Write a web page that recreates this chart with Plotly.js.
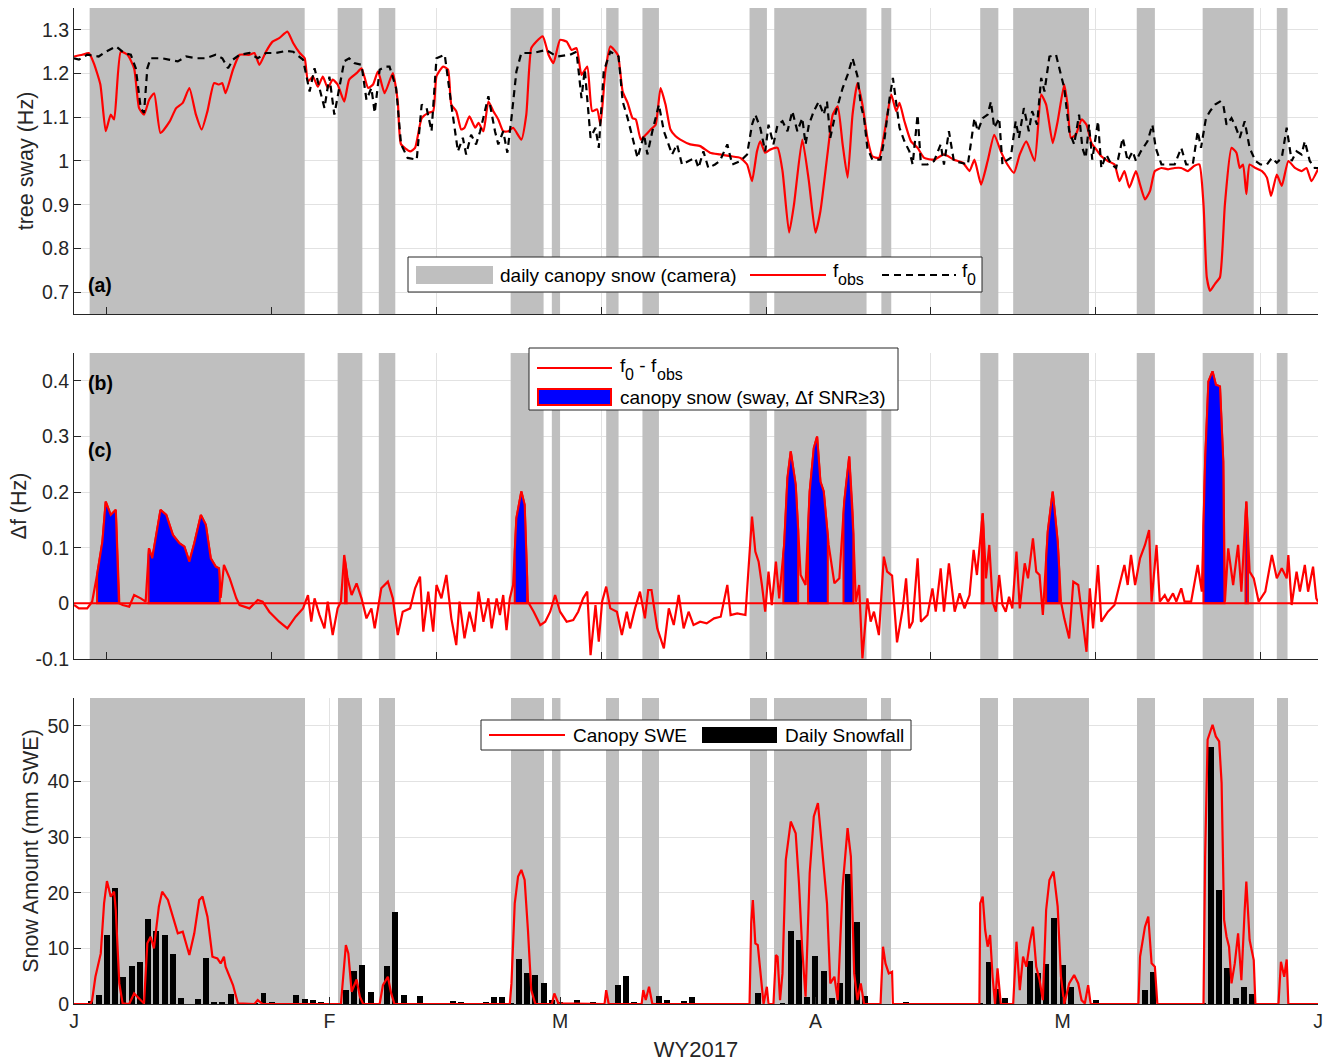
<!DOCTYPE html>
<html>
<head>
<meta charset="utf-8">
<script src="https://cdn.plot.ly/plotly-3.0.1.min.js"></script>
<style>html,body{margin:0;padding:0;background:#fff;}#chart{width:1327px;height:1062px;}</style>
</head>
<body>
<div id="chart"></div>
<script>
// ---- x is days since 1 Jan 2017 (WY2017) ----
const monthDays = [0, 31, 59, 90, 120, 151];
const monthLabels = ['J', 'F', 'M', 'A', 'M', 'J'];
const gridDays = [4, 24, 44, 64, 84, 104, 124, 144];

// camera: days with snow in canopy
const camStart = [1.9, 32, 37, 53, 58, 64.6, 69, 82, 85, 98, 110, 114, 129, 137, 146];
const camEnd   = [28, 35, 39, 57, 59, 66.1, 71, 84.1, 96.2, 99.2, 112.2, 123.2, 131.2, 143.2, 147.3];

// (a) observed sway frequency
const fobsDay = [0,1.0,1.8,2.4,3.2,3.85,4.46,4.87,5.68,6.5,7.3,7.9,8.5,9.12,9.73,10.5,11.6,12.4,13.2,14.0,14.8,15.5,16.2,17.0,17.6,18.0,18.4,19.3,20.1,21.3,21.9,22.5,23.3,24.1,24.9,25.9,26.6,27.4,28.0,28.4,29.0,29.6,30.2,30.8,31.4,32.0,32.8,33.4,34.3,34.9,35.7,36.3,36.9,37.7,
 38.7,39.3,39.7,40.8,41.4,42.2,43.0,43.6,44.0,44.8,45.4,45.8,46.4,47.0,47.4,48.0,48.7,49.1,49.7,50.3,50.9,51.5,52.1,52.7,53.3,54.3,54.9,55.5,56.1,56.9,57.6,58.2,59.0,59.8,60.4,61.0,61.6,62.3,62.9,63.5,63.9,64.5,65.1,66.0,66.6,67.2,67.8,68.2,68.8,69.4,70.0,70.6,71.2,71.8,72.4,73.0,73.6,74.8,76.0,
 77.2,78.4,79.7,80.9,81.7,82.3,82.9,83.3,83.9,84.5,85.4,86.0,86.8,87.4,88.4,89.2,90.0,90.6,91.5,92.1,92.7,93.3,93.9,94.5,95.1,95.7,96.3,96.9,97.7,98.4,99.2,99.8,100.2,100.8,101.6,102.4,103.2,104.4,105.6,106.8,107.9,108.7,109.3,110.1,110.9,111.7,112.5,113.3,
 114.1,114.8,115.6,116.6,117.4,118.0,118.8,119.4,120.2,120.6,121.0,121.6,122.3,122.9,123.5,124.1,124.7,125.5,126.3,126.9,127.5,128.1,128.9,129.4,130.0,130.6,131.2,132.0,132.8,133.6,134.4,135.2,136.0,136.6,137.1,137.5,137.9,138.5,139.1,139.7,140.5,141.1,141.5,141.9,142.3,142.7,143.4,144.2,144.8,145.3,146.0,146.6,147.4,148.2,149.0,149.6,150.2,151.0];
const fobsVal = [1.239,1.243,1.247,1.224,1.175,1.068,1.106,1.095,1.25,1.243,1.212,1.121,1.106,1.14,1.155,1.064,1.09,1.121,1.133,1.167,1.106,1.072,1.114,1.178,1.175,1.178,1.155,1.209,1.243,1.243,1.247,1.22,1.25,1.273,1.281,1.296,1.27,1.247,1.235,1.182,1.193,1.17,1.193,1.167,1.186,1.175,1.136,1.186,1.201,1.212,1.167,1.175,1.205,1.155,
 1.201,1.136,1.038,1.022,1.03,1.098,1.11,1.114,1.194,1.216,1.209,1.129,1.114,1.072,1.076,1.102,1.076,1.087,1.068,1.136,1.114,1.095,1.068,1.068,1.076,1.049,1.106,1.258,1.273,1.285,1.243,1.224,1.277,1.273,1.254,1.258,1.197,1.216,1.114,1.118,1.083,1.205,1.262,1.243,1.159,1.133,1.098,1.095,1.049,1.06,1.072,1.083,1.167,1.129,1.072,1.057,1.049,1.038,1.034,
 1.019,1.015,1.011,1.007,0.992,0.954,1.022,1.045,1.019,1.026,1.03,0.977,0.836,0.901,1.049,0.954,0.836,0.885,1.022,1.106,1.125,1.038,0.962,1.106,1.178,1.129,1.053,1.011,1.007,1.068,1.152,1.114,1.133,1.091,1.045,1.03,1.007,1.003,1.015,1.003,0.996,0.977,1.003,0.946,1.0,1.06,1.022,0.992,
 0.973,1.015,1.045,1.0,1.152,1.129,1.041,1.091,1.175,1.129,1.053,1.06,1.095,1.083,1.041,1.026,1.011,1.0,0.992,0.954,0.977,0.939,0.977,0.946,0.912,0.931,0.977,0.984,0.981,0.984,0.984,0.977,0.989,0.992,0.901,0.734,0.703,0.719,0.734,0.901,1.03,1.019,0.984,0.992,0.924,0.992,0.984,0.977,0.962,0.92,0.969,0.943,1.0,0.984,0.977,0.984,0.954,0.981];

// (a) snow-free reference frequency f0
const f0Day = [0,0.6,1.6,3.0,3.85,5.1,6.1,6.9,7.5,8.1,8.5,8.9,9.3,10.7,11.5,12.6,13.6,14.8,16.0,17.2,18.0,18.7,19.3,20.1,21.3,22.3,23.3,24.5,25.8,26.6,27.8,28.6,29.2,29.8,30.4,31.0,31.6,32.2,32.8,33.4,34.0,34.9,35.5,36.1,36.5,37.1,37.9,
 38.3,39.1,39.7,40.5,41.6,42.2,42.8,43.4,44.0,45.0,45.8,46.6,47.2,47.6,48.2,48.8,49.3,50.3,51.1,51.5,52.1,52.6,53.1,53.7,54.3,55.7,57.3,58.6,60.2,61.0,61.6,62.0,62.7,63.3,63.7,64.3,65.1,66.1,66.6,67.2,67.8,68.4,69.2,69.6,70.2,71.0,71.6,72.6,73.2,73.8,74.6,75.4,75.8,
 76.4,77.0,77.8,78.4,79.3,79.9,80.9,81.7,82.3,82.7,83.3,83.9,84.3,84.9,85.4,86.0,86.6,87.2,87.8,88.4,88.8,89.2,89.8,90.4,91.0,91.4,91.8,92.4,93.3,93.9,94.5,95.1,95.5,95.9,96.3,96.9,97.9,98.4,99.0,99.4,99.8,100.2,100.8,101.4,101.8,102.4,102.8,103.6,104.4,105.2,105.6,106.2,106.8,107.6,108.5,109.3,109.7,110.3,110.9,111.3,111.7,112.3,112.7,
 113.1,113.7,114.3,114.7,115.3,115.9,116.3,116.9,117.4,117.8,118.4,119.2,119.8,120.2,120.8,121.4,122.0,122.4,122.8,123.2,123.6,124.3,124.7,125.3,125.9,126.5,127.3,127.9,128.5,128.9,129.5,130.3,130.9,131.3,132.0,132.8,133.6,134.4,135.0,135.8,136.4,136.8,137.4,137.9,138.5,139.1,139.5,139.9,140.5,140.9,141.5,142.1,142.7,143.4,144.0,144.8,145.4,146.0,146.6,147.2,147.8,148.4,149.0,149.4,150.0,150.6,151.0];
const f0Val = [1.235,1.232,1.243,1.239,1.25,1.262,1.247,1.243,1.212,1.121,1.11,1.212,1.235,1.235,1.232,1.228,1.239,1.235,1.235,1.243,1.235,1.212,1.232,1.243,1.247,1.235,1.247,1.247,1.252,1.25,1.232,1.159,1.212,1.163,1.121,1.193,1.106,1.167,1.228,1.235,1.224,1.22,1.14,1.167,1.11,1.209,1.216,
 1.216,1.167,1.038,1.007,1.003,1.129,1.121,1.068,1.235,1.243,1.129,1.022,1.053,1.015,1.06,1.038,1.068,1.148,1.068,1.038,1.068,1.019,1.098,1.205,1.247,1.247,1.254,1.239,1.243,1.25,1.144,1.209,1.053,1.076,1.03,1.205,1.25,1.239,1.136,1.098,1.053,1.007,1.06,1.015,1.068,1.129,1.068,1.015,1.038,0.992,1.0,1.007,0.984,
 1.022,0.984,0.992,1.0,1.038,0.992,1.0,1.015,1.083,1.106,1.076,1.022,1.083,1.038,1.083,1.091,1.068,1.114,1.068,1.098,1.038,1.083,1.114,1.136,1.106,1.136,1.053,1.106,1.167,1.197,1.235,1.194,1.129,1.098,1.03,1.003,1.003,1.053,1.144,1.19,1.129,1.076,1.045,1.022,0.992,1.106,0.992,0.992,1.0,1.038,0.992,1.068,1.0,0.996,0.992,1.098,1.068,1.098,1.106,1.136,1.076,1.098,0.992,
 1.0,1.007,1.091,1.053,1.121,1.068,1.114,1.083,1.19,1.159,1.239,1.243,1.197,1.167,1.068,1.038,1.106,1.03,1.007,1.083,1.003,1.091,0.984,1.015,0.992,0.984,1.053,1.0,1.022,1.0,1.022,1.045,1.083,1.03,0.992,0.992,0.992,1.03,0.992,0.992,1.068,1.03,1.098,1.114,1.129,1.136,1.129,1.083,1.098,1.083,1.053,1.091,1.03,1.0,0.992,0.992,1.007,0.996,1.007,1.076,1.0,1.022,1.015,1.045,1.0,0.984,0.984];

// (b) delta f = f0 - fobs
const dfDay = [0,0.6,1.6,2.2,2.8,3.45,3.85,4.46,5.07,5.5,5.9,6.7,7.3,8.1,8.7,9.1,9.5,10.5,11.2,12.0,12.8,13.4,14.0,14.6,15.4,16.0,16.6,17.2,17.6,17.8,18.2,18.9,19.7,20.1,21.3,22.3,22.9,23.7,24.9,25.9,26.9,27.8,28.4,28.8,29.2,29.8,30.4,30.8,31.4,32.0,32.4,32.8,33.2,33.7,34.3,34.9,35.5,36.1,36.5,37.3,38.1,38.7,39.3,39.9,40.8,41.4,42.0,42.4,43.0,43.6,44.0,44.6,45.2,45.8,46.4,46.8,47.4,48.0,48.6,49.1,
 49.7,50.3,50.7,51.3,51.7,52.1,52.5,52.9,53.3,53.7,54.3,54.7,55.1,55.8,56.6,57.2,57.8,58.4,59.0,59.8,60.6,61.2,61.8,62.3,62.7,63.3,63.7,64.1,64.6,65.1,65.9,66.5,67.1,67.5,68.1,68.7,69.3,69.7,70.1,70.8,71.6,72.2,72.8,73.4,74.0,74.6,75.2,76.0,76.8,77.7,78.5,79.3,79.7,80.5,81.5,81.9,82.3,82.7,83.1,83.5,83.9,84.3,84.7,85.2,85.6,86.2,86.6,87.0,87.6,88.2,88.8,89.3,89.8,90.2,90.6,91.0,91.6,92.3,92.9,93.5,94.1,94.5,94.9,95.3,95.7,96.3,96.7,97.1,97.7,98.3,98.7,
 99.3,99.6,99.9,100.6,101.0,101.4,101.8,102.4,102.8,103.6,104.2,104.6,105.2,105.6,106.2,106.9,107.5,108.1,108.7,109.2,109.6,110.3,110.7,111.1,111.5,111.9,112.3,112.7,113.1,113.5,113.9,114.4,114.8,115.4,115.8,116.4,116.8,117.2,117.6,118.2,118.8,119.4,119.8,120.2,120.8,121.3,121.9,122.5,122.9,123.3,123.7,124.3,124.7,125.5,126.3,126.9,127.5,127.9,128.3,128.8,129.4,130.0,130.5,130.8,131.4,131.8,132.4,132.8,133.4,133.8,134.4,134.8,135.6,136.4,136.9,137.3,137.7,138.2,138.6,139.1,139.5,139.7,140.1,140.7,141.3,141.7,142.3,142.7,143.2,143.8,144.6,145.4,146.0,146.6,147.2,147.4,147.8,148.4,148.8,149.4,149.8,150.4,150.8,151.0];
const dfVal = [-0.003,-0.009,-0.009,0.003,0.051,0.111,0.183,0.159,0.168,0.0,-0.003,-0.006,0.015,0.009,0.003,0.099,0.081,0.168,0.159,0.123,0.108,0.102,0.075,0.108,0.159,0.141,0.081,0.066,0.063,0.01,0.069,0.045,0.009,-0.003,-0.009,0.006,0.003,-0.015,-0.033,-0.045,-0.024,-0.009,0.015,-0.033,0.009,-0.021,-0.045,0.003,-0.057,-0.009,0.003,0.087,0.045,0.015,0.036,0.009,-0.027,-0.009,-0.045,0.027,0.039,0.009,-0.057,-0.015,-0.009,0.027,0.048,-0.051,0.021,-0.051,0.033,0.009,0.051,-0.027,-0.075,0.003,-0.063,-0.015,-0.051,0.021,
 -0.033,0.009,-0.045,0.009,-0.021,0.015,-0.048,0.009,0.033,0.153,0.201,0.177,0.003,-0.015,-0.039,-0.033,-0.015,0.015,-0.015,-0.033,-0.03,-0.015,0.009,0.021,-0.093,-0.003,-0.069,0.003,0.03,-0.009,-0.015,-0.057,-0.015,-0.045,-0.009,0.021,-0.027,0.024,0.024,-0.045,-0.081,-0.009,-0.039,0.015,-0.045,-0.015,-0.039,-0.033,-0.036,-0.027,-0.024,0.033,-0.021,-0.018,-0.021,0.075,0.156,0.093,0.075,0.033,-0.015,0.057,-0.003,0.075,0.009,0.105,0.225,0.273,0.213,0.051,0.033,0.201,0.279,0.3,0.219,0.201,0.105,0.036,0.045,0.183,0.264,0.165,0.003,0.033,-0.099,0.009,-0.033,-0.015,-0.057,0.084,0.057,
 0.05,-0.003,-0.07,-0.009,0.045,-0.045,-0.033,0.081,-0.033,-0.021,0.027,-0.015,0.063,-0.015,0.072,-0.015,0.018,-0.009,0.015,0.096,0.051,0.162,0.045,0.105,0.003,-0.015,0.051,-0.003,-0.015,0.012,-0.009,0.093,-0.009,0.072,0.045,0.117,0.057,0.051,-0.021,0.129,0.201,0.111,0.003,-0.027,-0.063,0.039,0.033,-0.039,-0.087,0.027,-0.045,0.069,-0.033,-0.015,-0.003,0.033,0.069,0.033,0.087,0.033,0.081,0.105,0.132,0.003,0.105,0.003,0.015,0.003,0.018,0.003,0.027,0.003,0.003,0.069,0.021,0.255,0.399,0.417,0.393,0.39,0.255,0.003,0.099,0.033,0.105,0.021,0.183,0.057,0.045,0.003,0.021,0.087,0.045,0.063,0.045,0.087,-0.003,0.057,0.021,0.069,0.021,0.066,0.009,0.003];

// (b) canopy snow detected from sway (delta f SNR >= 3)
const swayStart = [2.8, 9.05, 32.9, 53.5, 86.1, 89.1, 93.4, 110.2, 118.0, 137.1, 142.2];
const swayEnd   = [5.45, 17.7, 33.1, 55.0, 87.9, 91.5, 94.6, 110.4, 119.6, 139.65, 142.5];

// (c) canopy SWE (mm)
const sweDay = [0,2.0,2.2,2.6,3.25,3.65,4.0,4.46,4.87,5.07,5.5,5.9,6.7,7.3,7.9,8.5,8.9,9.3,9.7,10.3,10.7,11.4,12.0,12.6,13.2,14.0,14.6,15.2,15.6,16.2,16.8,17.4,17.8,18.2,18.4,19.3,19.9,20.9,21.9,22.3,22.9,32.4,32.6,33.0,33.3,33.7,34.3,34.7,35.1,37.1,37.5,38.1,38.5,38.9,52.9,53.1,53.5,53.9,54.3,54.7,55.1,55.5,56.0,58.0,58.3,58.8,64.4,64.6,64.9,68.9,69.1,69.4,69.8,70.2,82.0,82.2,82.4,82.7,83.0,83.4,83.7,84.1,84.3,84.9,85.2,85.4,85.7,86.0,86.4,87.0,87.6,88.0,88.4,88.8,89.3,89.8,90.3,90.6,91.0,91.4,91.8,92.3,92.7,93.3,93.9,94.3,94.7,95.1,95.5,95.9,97.9,98.2,98.5,98.9,99.3,99.4,109.9,110.0,110.3,110.6,110.9,111.2,111.5,111.8,112.1,112.5,114.0,114.4,114.8,115.2,115.6,116.0,116.4,116.8,117.2,117.6,118.0,118.4,118.9,119.4,119.8,120.2,120.8,121.4,121.9,122.3,122.7,123.1,123.4,129.2,129.4,130.0,130.4,130.8,131.2,131.5,137.1,137.3,137.6,138.2,138.6,139.0,139.3,139.6,139.9,140.2,140.5,140.9,141.3,141.7,142.1,142.3,142.7,143.2,143.4,146.2,146.5,146.9,147.2,147.4,151];
const sweVal = [0,0,0.7,4.9,9.1,18.1,22.1,19.3,20.2,16.9,3.7,0.1,0,1.9,1.0,0.1,10.9,12.1,10.0,17.5,20.2,18.7,15.7,12.7,13.0,8.8,12.7,18.7,19.3,15.7,8.5,8.2,7.3,8.5,6.7,3.4,0.1,0,0,0.7,0,0,3.7,10.6,9.1,2.2,4.4,1.3,0,0,3.4,4.9,1.9,0,0,3.7,18.1,22.9,24.1,22.3,13.3,2.5,0,0,1.9,0.1,0,2.5,0,0,2.5,0.7,3.1,0,0,14.5,18.7,10.9,10.6,4.3,0,3.1,0,0,8.8,8.5,0.7,5.5,25.9,32.8,30.7,21.7,9.7,1.3,23.5,33.7,36.1,31.3,25.0,18.1,3.7,4.9,0.7,21.1,31.6,26.5,5.5,0.7,3.7,0,0,10.3,7.3,5.5,5.8,0,0,18.1,19.3,13.3,10.3,12.4,4.9,0,6.4,0,0,11.2,2.5,8.5,6.7,10.9,13.9,6.7,4.3,0.7,16.9,22.3,23.8,17.5,4.9,0,3.7,5.2,3.7,0.7,0.1,3.4,0,0,8.5,13.9,15.7,7.3,6.7,0,0,26.5,47.5,50.2,48.1,47.2,39.7,15.1,12.1,10.3,3.7,7.3,12.7,4.3,16.9,22.0,11.5,7.9,0,0,7.6,4.9,8.0,0,0];

// (c) daily snowfall (mm SWE)
const snowDay = [2,3,4,5,6,7,8,9,10,11,12,13,15,16,17,18,19,22,23,24,27,28,29,30,33,34,35,36,38,39,40,42,46,47,50,51,52,53,54,55,56,57,58,59,61,62,63,66,67,68,71,72,73,74,75,83,86,87,88,89,90,91,92,93,94,95,96,100,101,110,111,112,113,116,117,118,119,120,121,124,130,131,137,138,139,140,141,142,143];
const snowAmt = [0.6,1.7,12.4,20.9,4.9,6.8,7.6,15.3,13.1,12.4,9.0,1.1,0.9,8.2,0.4,0.4,1.8,0.1,2.0,0.3,1.7,0.9,0.8,0.4,2.5,5.9,7.0,2.1,6.8,16.6,1.6,1.5,0.6,0.4,0.3,1.2,1.3,0.1,8.0,5.5,5.2,3.8,0.7,0.3,0.7,0.2,0.4,3.5,5.1,0.3,1.4,0.8,0.1,0.6,1.3,1.9,0.1,13.2,11.5,1.2,8.6,6.0,1.0,3.7,23.4,14.7,1.4,0.2,0.4,0.2,7.5,2.7,1.0,7.8,5.6,7.1,15.4,7.0,3.1,0.7,2.5,5.8,0.1,46.2,20.5,6.4,1.1,3.1,1.8];

// legend labels
const legendA = ['daily canopy snow (camera)', 'f<sub>obs</sub>', 'f<sub>0</sub>'];
const legendB = ['f<sub>0</sub> - f<sub>obs</sub>', 'canopy snow (sway, \u0394f SNR\u22653)'];
const legendC = ['Canopy SWE', 'Daily Snowfall'];

// ---- axis ranges ----
const xRange = [0, 151];
const yRangeA = [0.65, 1.35];
const yRangeB = [-0.1, 0.45];
const yRangeC = [0, 55];

const GRAY = '#bfbfbf', RED = '#ff0000', BLUE = '#0000ff', INK = '#262626', GRID = '#e2e2e2';
const DASH = '7px,5px';

function interp(xs, ys, t) {
  if (t <= xs[0]) return ys[0];
  for (let i = 0; i < xs.length - 1; i++) {
    if (t >= xs[i] && t <= xs[i + 1]) {
      return ys[i] + (ys[i + 1] - ys[i]) * (t - xs[i]) / (xs[i + 1] - xs[i]);
    }
  }
  return ys[ys.length - 1];
}
function grayBands(range) {
  const x = [], y = [];
  camStart.forEach((s, i) => {
    const e = camEnd[i];
    x.push(s, e, e, s, s, null);
    y.push(range[0], range[0], range[1], range[1], range[0], null);
  });
  return { x, y };
}
function swayPolys() {
  const x = [], y = [];
  swayStart.forEach((s, i) => {
    const e = swayEnd[i];
    x.push(s); y.push(interp(dfDay, dfVal, s));
    dfDay.forEach((d, j) => { if (d > s && d < e) { x.push(d); y.push(dfVal[j]); } });
    x.push(e, e, s, s, null);
    y.push(interp(dfDay, dfVal, e), 0, 0, interp(dfDay, dfVal, s), null);
  });
  return { x, y };
}

const gA = grayBands(yRangeA), gB = grayBands(yRangeB), sp = swayPolys();
const camMid = camStart.map((s, i) => (s + camEnd[i]) / 2);
const camWid = camStart.map((s, i) => camEnd[i] - s);

const traces = [
  // panel (a)
  { x: gA.x, y: gA.y, xaxis: 'x', yaxis: 'y', type: 'scatter', mode: 'lines', fill: 'toself',
    fillcolor: GRAY, line: { width: 0, color: GRAY }, name: legendA[0], hoverinfo: 'skip' },
  { x: fobsDay, y: fobsVal, xaxis: 'x', yaxis: 'y', type: 'scatter', mode: 'lines',
    line: { color: RED, width: 2.2, shape: 'spline', smoothing: 0.5 }, name: legendA[1] },
  { x: f0Day, y: f0Val, xaxis: 'x', yaxis: 'y', type: 'scatter', mode: 'lines',
    line: { color: '#000', width: 2.2, dash: DASH }, name: legendA[2] },
  // panel (b)
  { x: gB.x, y: gB.y, xaxis: 'x2', yaxis: 'y2', type: 'scatter', mode: 'lines', fill: 'toself',
    fillcolor: GRAY, line: { width: 0, color: GRAY }, hoverinfo: 'skip' },
  { x: dfDay, y: dfVal, xaxis: 'x2', yaxis: 'y2', type: 'scatter', mode: 'lines',
    line: { color: RED, width: 2.2 }, name: legendB[0] },
  { x: sp.x, y: sp.y, xaxis: 'x2', yaxis: 'y2', type: 'scatter', mode: 'lines', fill: 'toself',
    fillcolor: BLUE, line: { color: RED, width: 2 }, name: legendB[1] },
  // panel (c)
  { x: camMid, y: camMid.map(() => yRangeC[1]), width: camWid, base: 0, xaxis: 'x3', yaxis: 'y3', type: 'bar',
    marker: { color: GRAY, line: { width: 0 } }, hoverinfo: 'skip' },
  { x: sweDay, y: sweVal, xaxis: 'x3', yaxis: 'y3', type: 'scatter', mode: 'lines',
    line: { color: RED, width: 2.2 }, name: legendC[0] },
  { x: snowDay, y: snowAmt, width: 0.72, xaxis: 'x3', yaxis: 'y3', type: 'bar',
    marker: { color: '#000', line: { width: 0 } }, name: legendC[1] }
];

// ---- legend boxes (drawn in page pixels, converted to paper fractions) ----
const ML = 74, MR = 9, MT = 8, MB = 58, W = 1327, H = 1062;
const PW = W - ML - MR, PH = H - MT - MB;
const PX = p => (p - ML) / PW;
const PY = p => (H - MB - p) / PH;
const LEGFONT = { size: 19, color: '#000' };
const SUBFONT = { size: 16, color: '#000' };

function box(x0, x1, y0, y1) {
  return { type: 'rect', xref: 'paper', yref: 'paper', x0: PX(x0), x1: PX(x1), y0: PY(y1), y1: PY(y0),
    line: { color: INK, width: 1 }, fillcolor: '#fff', layer: 'above' };
}
function swatch(x0, x1, y0, y1, fill, lineColor, lw) {
  return { type: 'rect', xref: 'paper', yref: 'paper', x0: PX(x0), x1: PX(x1), y0: PY(y1), y1: PY(y0),
    line: { color: lineColor || fill, width: lw || 0 }, fillcolor: fill, layer: 'above' };
}
function hline(x0, x1, y, color, dash) {
  return { type: 'line', xref: 'paper', yref: 'paper', x0: PX(x0), x1: PX(x1), y0: PY(y), y1: PY(y),
    line: { color: color, width: 2.2, dash: dash || 'solid' }, layer: 'above' };
}
function label(text, x, y, font) {
  return { text: text, xref: 'paper', yref: 'paper', x: PX(x), y: PY(y), xanchor: 'left', yanchor: 'middle',
    showarrow: false, font: font || LEGFONT };
}
// split "f<sub>..</sub>" style labels into normal + lowered parts (MATLAB-like subscripts)
function subLabel(html, x, y) {
  const out = [];
  const parts = html.split(/(<sub>.*?<\/sub>)/).filter(s => s.length);
  let cx = x;
  parts.forEach(p => {
    const isSub = p.startsWith('<sub>');
    const t = p.replace(/<\/?sub>/g, '');
    const size = isSub ? SUBFONT.size : LEGFONT.size;
    out.push(label(t, cx, isSub ? y + 9 : y, isSub ? SUBFONT : LEGFONT));
    // advance by an estimated text width (Liberation Sans metrics)
    let w = 0;
    for (const ch of t) w += (ch === 'f' ? 0.28 : ch === ' ' ? 0.28 : ch === '-' ? 0.34 : 0.56) * size;
    cx += w;
  });
  return out;
}

const axCommon = {
  showline: true, linecolor: INK, linewidth: 1, mirror: false,
  ticks: 'inside', ticklen: 7, tickcolor: INK, tickwidth: 1,
  showgrid: true, gridcolor: GRID, gridwidth: 1, zeroline: false,
  tickfont: { size: 19.5, color: INK }
};
const TITLEFONT = { size: 21.5, color: INK };

const layout = {
  width: W, height: H,
  margin: { l: ML, r: MR, t: MT, b: MB },
  paper_bgcolor: '#fff', plot_bgcolor: '#fff',
  font: { family: '"Liberation Sans", Arial, sans-serif', size: 19, color: INK },
  showlegend: false,
  barmode: 'overlay', bargap: 0,
  xaxis: Object.assign({}, axCommon, { anchor: 'y', range: xRange, tickvals: gridDays, showticklabels: false }),
  yaxis: Object.assign({}, axCommon, { domain: [0.6928, 1], anchor: 'x', range: yRangeA,
    tickvals: [0.7, 0.8, 0.9, 1.0, 1.1, 1.2, 1.3], ticktext: ['0.7', '0.8', '0.9', '1', '1.1', '1.2', '1.3'],
    title: { text: 'tree sway (Hz)', font: TITLEFONT, standoff: 2 } }),
  xaxis2: Object.assign({}, axCommon, { anchor: 'y2', range: xRange, tickvals: gridDays, showticklabels: false }),
  yaxis2: Object.assign({}, axCommon, { domain: [0.3464, 0.6536], anchor: 'x2', range: yRangeB,
    tickvals: [-0.1, 0, 0.1, 0.2, 0.3, 0.4], ticktext: ['-0.1', '0', '0.1', '0.2', '0.3', '0.4'],
    title: { text: '\u0394f (Hz)', font: TITLEFONT, standoff: 2 } }),
  xaxis3: Object.assign({}, axCommon, { anchor: 'y3', range: xRange, tickvals: monthDays, ticktext: monthLabels,
    title: { text: 'WY2017', font: { size: 22, color: INK }, standoff: 10 } }),
  yaxis3: Object.assign({}, axCommon, { domain: [0, 0.3072], anchor: 'x3', range: yRangeC,
    tickvals: [0, 10, 20, 30, 40, 50],
    title: { text: 'Snow Amount (mm SWE)', font: TITLEFONT, standoff: 2 } }),
  shapes: [
    { type: 'line', xref: 'x2 domain', yref: 'y2', x0: 0, x1: 1, y0: 0, y1: 0,
      line: { color: RED, width: 2 }, layer: 'above' },
    // legend (a)
    box(408, 982, 257, 292),
    swatch(416, 493, 266, 284, GRAY),
    hline(750, 826, 275, RED),
    hline(882, 956, 275, '#000', DASH),
    // legend (b)
    box(529, 898, 348, 410),
    hline(537, 612, 368, RED),
    swatch(538, 611, 389, 405, BLUE, RED, 2),
    // legend (c)
    box(481, 911, 720, 750),
    hline(489, 565, 735, RED),
    swatch(702, 777, 727, 743, '#000')
  ],
  annotations: [].concat(
    [label(legendA[0], 498, 275)],
    subLabel(legendA[1], 831, 271),
    subLabel(legendA[2], 960, 271),
    subLabel(legendB[0], 618, 365),
    [label(legendB[1], 618, 397),
     label(legendC[0], 571, 735),
     label(legendC[1], 783, 735),
     { text: '<b>(a)</b>', xref: 'paper', yref: 'paper', x: PX(86), y: PY(285), xanchor: 'left', yanchor: 'middle', showarrow: false, font: { size: 19.5, color: '#000' } },
     { text: '<b>(b)</b>', xref: 'paper', yref: 'paper', x: PX(86), y: PY(383), xanchor: 'left', yanchor: 'middle', showarrow: false, font: { size: 19.5, color: '#000' } },
     { text: '<b>(c)</b>', xref: 'paper', yref: 'paper', x: PX(86), y: PY(450), xanchor: 'left', yanchor: 'middle', showarrow: false, font: { size: 19.5, color: '#000' } }]
  )
};

Plotly.newPlot('chart', traces, layout, { displayModeBar: false, staticPlot: true });
</script>
</body>
</html>
